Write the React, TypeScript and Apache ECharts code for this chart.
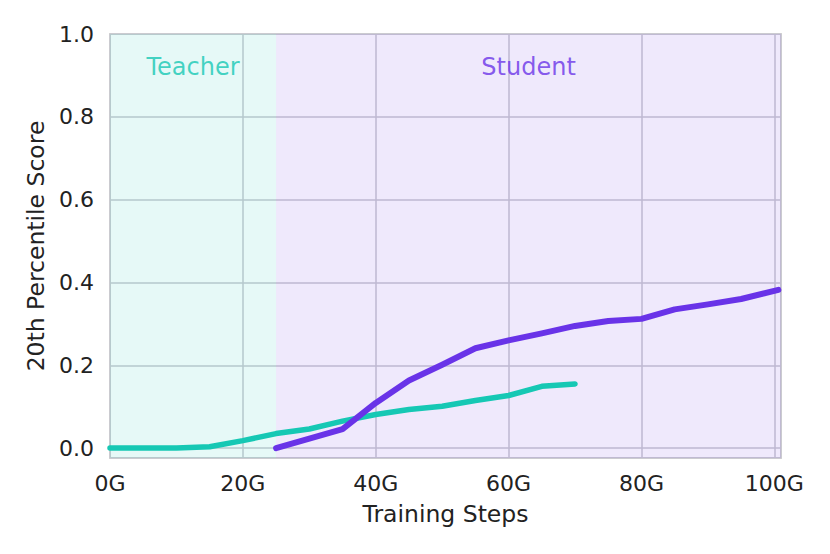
import React, { useEffect, useRef } from "react";
import * as echarts from "echarts";

const teacherSteps = [0, 5, 10, 15, 20, 25, 30, 35, 40, 45, 50, 55, 60, 65, 70];
const teacherScores = [0, 0, 0, 0.003, 0.018, 0.035, 0.046, 0.065, 0.081, 0.093, 0.101, 0.115, 0.127, 0.149, 0.155];

const studentSteps = [25, 30, 35, 40, 45, 50, 55, 60, 65, 70, 75, 80, 85, 90, 95, 100.6];
const studentScores = [0, 0.023, 0.046, 0.109, 0.163, 0.201, 0.241, 0.26, 0.277, 0.295, 0.307, 0.312, 0.335, 0.347, 0.36, 0.382];

const phaseNames = ["Teacher", "Student"];
const phaseStarts = [0, 25];
const phaseEnds = [25, 101];
const phaseLabelY = 0.92;

const xMin = 0;
const xMax = 101;
const yMin = -0.024;
const yMax = 1.0;

const TEAL = "#16c8b4";
const PURPLE = "#6933e8";
const FONT = "DejaVu Sans";

export default function App() {
  const ref = useRef<HTMLDivElement>(null);
  useEffect(() => {
    if (!ref.current) return;
    const chart = echarts.init(ref.current, null, { renderer: "svg" });
    const pair = (xs: number[], ys: number[]) => xs.map((x, i) => [x, ys[i]]);
    const phaseColors = ["rgba(26,200,181,0.11)", "rgba(108,54,232,0.11)"];
    const labelColors = [TEAL, PURPLE];
    chart.setOption({
      animation: false,
      grid: {
        left: 110,
        right: 49,
        top: 34,
        bottom: 96,
        show: true,
        borderColor: "#d2d2d2",
        borderWidth: 2,
        backgroundColor: "transparent",
      },
      xAxis: {
        type: "value",
        min: xMin,
        max: xMax,
        interval: 20,
        name: "Training Steps",
        nameLocation: "middle",
        nameGap: 44,
        nameTextStyle: { fontFamily: FONT, fontSize: 23.5, color: "#222" },
        axisLine: { show: false },
        axisTick: { show: false },
        axisLabel: {
          fontFamily: FONT,
          fontSize: 22,
          color: "#222",
          margin: 14,
          formatter: (v: number) => (Math.abs(v % 20) < 1e-6 ? `${v}G` : ""),
        },
        splitLine: { show: true, lineStyle: { color: "#c9c8cf", width: 1.5 } },
      },
      yAxis: {
        type: "value",
        min: yMin,
        max: yMax,
        minInterval: 0.2,
        maxInterval: 0.2,
        name: "20th Percentile Score",
        nameLocation: "middle",
        nameGap: 60,
        nameTextStyle: { fontFamily: FONT, fontSize: 23.5, color: "#222" },
        axisLine: { show: false },
        axisTick: { show: false },
        axisLabel: {
          fontFamily: FONT,
          fontSize: 22,
          color: "#222",
          margin: 16,
          formatter: (v: number) => {
            const k = v / 0.2;
            return Math.abs(k - Math.round(k)) < 1e-6 ? Math.abs(v).toFixed(1) : "";
          },
        },
        splitLine: { show: true, lineStyle: { color: "#c9c8cf", width: 1.5 } },
      },
      series: [
        {
          type: "line",
          name: "phases",
          data: [],
          silent: true,
          z: 1,
          markArea: {
            silent: true,
            data: phaseNames.map((n, i) => [
              { xAxis: phaseStarts[i], yAxis: yMin, itemStyle: { color: phaseColors[i] } },
              { xAxis: phaseEnds[i], yAxis: yMax },
            ]),
          },
        },
        {
          type: "line",
          name: "Teacher",
          data: pair(teacherSteps, teacherScores),
          showSymbol: false,
          symbol: "none",
          lineStyle: { color: TEAL, width: 5.5, cap: "round", join: "round" },
          z: 3,
        },
        {
          type: "line",
          name: "Student",
          data: pair(studentSteps, studentScores),
          showSymbol: false,
          symbol: "none",
          lineStyle: { color: PURPLE, width: 6, cap: "round", join: "round" },
          z: 4,
        },
        {
          type: "scatter",
          symbolSize: 0,
          silent: true,
          data: phaseNames.map((n, i) => ({
            value: [(phaseStarts[i] + phaseEnds[i]) / 2, phaseLabelY],
            label: {
              show: true,
              position: "inside",
              formatter: n,
              color: labelColors[i],
              fontFamily: FONT,
              fontSize: 24,
            },
          })),
          z: 5,
        },
      ],
    });
    return () => chart.dispose();
  }, []);
  return (
    <div
      ref={ref}
      style={{ position: "fixed", left: 0, top: 0, width: 830, height: 554, background: "#fff" }}
    />
  );
}
